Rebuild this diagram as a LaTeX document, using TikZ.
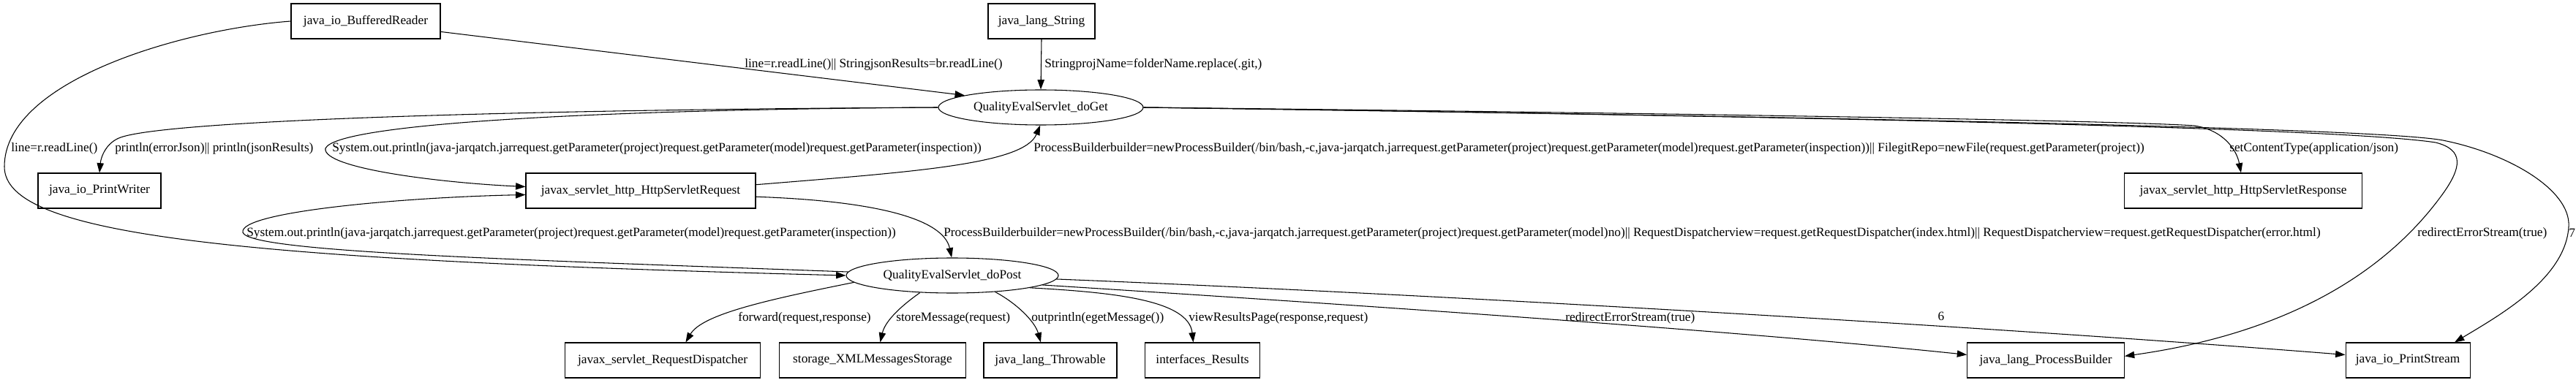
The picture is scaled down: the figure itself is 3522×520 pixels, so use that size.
\documentclass[tikz,border=0pt]{standalone}
\usepackage{fontspec}
\setmainfont{Liberation Serif}
\usetikzlibrary{shapes.geometric,arrows.meta}
\tikzset{
  ClassStyle/.style={draw,rectangle,line width=0.8pt,minimum height=36pt,minimum width=#1,inner sep=0pt},
  MethodStyle/.style={draw,ellipse,line width=0.8pt,inner sep=0pt,minimum height=36pt,minimum width=#1},
  EdgeStyle/.style={line width=0.8pt,-{Triangle[length=10pt,width=7pt]}},
  LabelStyle/.style={anchor=west,inner sep=0pt}
}

\begin{document}
\begin{tikzpicture}[x=0.75pt,y=-0.75pt,font=\fontsize{13}{15}\selectfont]
\useasboundingbox (0,0) rectangle (3522,520);
\node[ClassStyle=153pt] (BufReader) at (500,29) {java\_io\_BufferedReader};
\node[ClassStyle=109.5pt] (LangString) at (1424,29) {java\_lang\_String};
\node[MethodStyle=210pt] (doGet) at (1423,147) {QualityEvalServlet\_doGet};
\node[ClassStyle=126pt] (PrintWriter) at (136,261) {java\_io\_PrintWriter};
\node[ClassStyle=235.5pt] (Request) at (876,261) {javax\_servlet\_http\_HttpServletRequest};
\node[ClassStyle=244pt] (Response) at (3067,261) {javax\_servlet\_http\_HttpServletResponse};
\node[MethodStyle=217.5pt] (doPost) at (1302,377) {QualityEvalServlet\_doPost};
\node[ClassStyle=200pt] (Dispatcher) at (906,493) {javax\_servlet\_RequestDispatcher};
\node[ClassStyle=191pt] (Storage) at (1193,493) {storage\_XMLMessagesStorage};
\node[ClassStyle=136.5pt] (Throwable) at (1436,493) {java\_lang\_Throwable};
\node[ClassStyle=118pt] (Results) at (1644,493) {interfaces\_Results};
\node[ClassStyle=161pt] (ProcBuilder) at (2797,493) {java\_lang\_ProcessBuilder};
\node[ClassStyle=127.5pt] (PrintStream) at (3292,493) {java\_io\_PrintStream};

\draw[EdgeStyle] (BufReader.-8) -- (doGet.171);
\draw[EdgeStyle] (LangString.south) -- (doGet.north);
\draw[EdgeStyle] (BufReader.west) .. controls (250,40) and (6,110) .. (6,228) .. controls (6,320) and (300,355) .. (doPost.west);
\draw[EdgeStyle] (doGet.west) .. controls (700,150) and (230,165) .. (165,188) .. controls (145,195) and (138,215) .. (PrintWriter.north);
\draw[EdgeStyle] (doGet.west) .. controls (800,150) and (460,170) .. (445,203) .. controls (440,230) and (600,250) .. (Request.178);
\draw[EdgeStyle] (Request.3) .. controls (1250,235) and (1400,225) .. (doGet.-92);
\draw[EdgeStyle] (Request.-3) .. controls (1200,275) and (1290,300) .. (doPost.92);
\draw[EdgeStyle] (doPost.178) .. controls (700,355) and (340,345) .. (332,318) .. controls (326,290) and (550,270) .. (Request.-178);
\draw[EdgeStyle] (doGet.east) .. controls (2300,155) and (2900,165) .. (3000,172) .. controls (3040,178) and (3058,205) .. (Response.97);
\draw[EdgeStyle] (doGet.east) .. controls (2500,160) and (3200,175) .. (3330,195) .. controls (3370,205) and (3365,230) .. (3340,265) .. controls (3250,390) and (3100,460) .. (ProcBuilder.3);
\draw[EdgeStyle] (doGet.east) .. controls (2500,160) and (3250,175) .. (3340,192) .. controls (3430,210) and (3515,260) .. (3512,310) .. controls (3508,380) and (3420,430) .. (PrintStream.21);
\draw[EdgeStyle] (doPost.184) .. controls (1050,410) and (960,430) .. (Dispatcher.38);
\draw[EdgeStyle] (doPost.208) .. controls (1230,420) and (1210,440) .. (Storage.67);
\draw[EdgeStyle] (doPost.-21) .. controls (1390,415) and (1415,440) .. (Throwable.118);
\draw[EdgeStyle] (doPost.-9) .. controls (1520,400) and (1625,410) .. (Results.117);
\draw[EdgeStyle] (doPost.-6) .. controls (1900,420) and (2400,455) .. (ProcBuilder.176);
\draw[EdgeStyle] (doPost.-2) .. controls (1900,400) and (2700,445) .. (PrintStream.175);

\node[LabelStyle] (note1) at (1018,88) {line=r.readLine()|| StringjsonResults=br.readLine()};
\node[LabelStyle] (note2) at (1428,88) {StringprojName=folderName.replace(.git,)};
\node[LabelStyle] (note3) at (15,203) {line=r.readLine()};
\node[LabelStyle] (note4) at (157,203) {println(errorJson)|| println(jsonResults)};
\node[LabelStyle] (note5) at (454,203) {System.out.println(java-jarqatch.jarrequest.getParameter(project)request.getParameter(model)request.getParameter(inspection))};
\node[LabelStyle] (note6) at (1413,203) {ProcessBuilderbuilder=newProcessBuilder(/bin/bash,-c,java-jarqatch.jarrequest.getParameter(project)request.getParameter(model)request.getParameter(inspection))|| FilegitRepo=newFile(request.getParameter(project))};
\node[LabelStyle] (note7) at (3048,203) {setContentType(application/json)};
\node[LabelStyle] (note8) at (337,319) {System.out.println(java-jarqatch.jarrequest.getParameter(project)request.getParameter(model)request.getParameter(inspection))};
\node[LabelStyle] (note9) at (1290,319) {ProcessBuilderbuilder=newProcessBuilder(/bin/bash,-c,java-jarqatch.jarrequest.getParameter(project)request.getParameter(model)no)|| RequestDispatcherview=request.getRequestDispatcher(index.html)|| RequestDispatcherview=request.getRequestDispatcher(error.html)};
\node[LabelStyle] (note10) at (3305,319) {redirectErrorStream(true)};
\node[LabelStyle] (note11) at (3512,319) {7};
\node[LabelStyle] (note12) at (1009,435) {forward(request,response)};
\node[LabelStyle] (note13) at (1225,435) {storeMessage(request)};
\node[LabelStyle] (note14) at (1410,435) {outprintln(egetMessage())};
\node[LabelStyle] (note15) at (1625,435) {viewResultsPage(response,request)};
\node[LabelStyle] (note16) at (2140,435) {redirectErrorStream(true)};
\node[inner sep=0pt] (note17) at (2654,433) {6};
\end{tikzpicture}
\end{document}
